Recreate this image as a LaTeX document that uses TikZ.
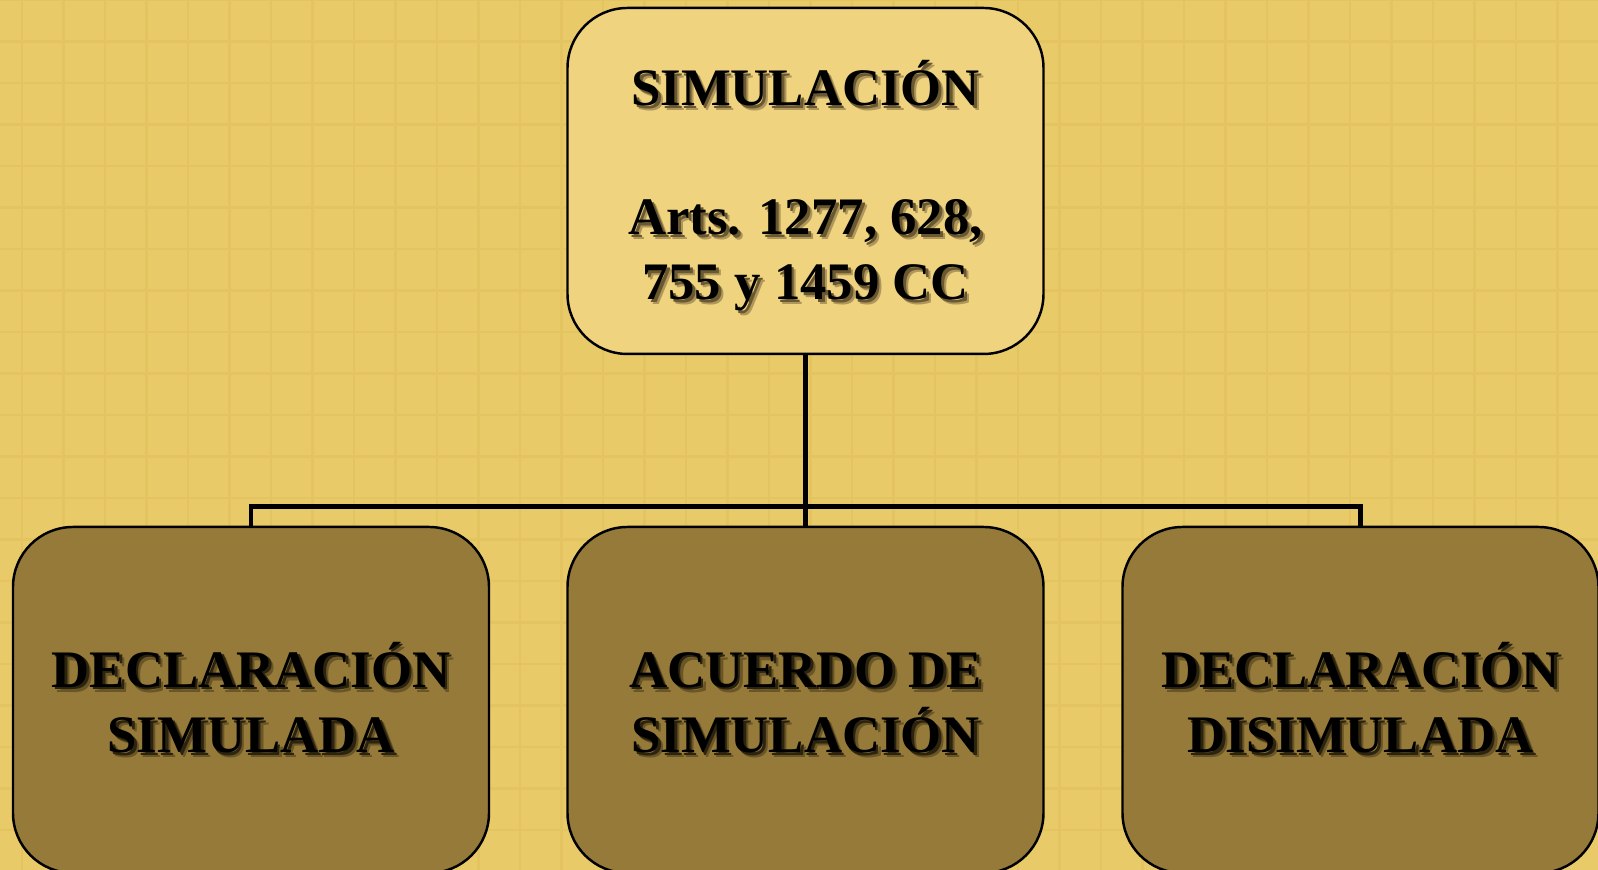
\documentclass[tikz,border=0pt]{standalone}
\usepackage{fontspec}
\setmainfont{Liberation Serif}
\definecolor{paper}{RGB}{233,202,104}
\definecolor{gridcol}{RGB}{228,196,97}
\definecolor{lightbox}{RGB}{239,211,127}
\definecolor{darkbox}{RGB}{149,122,57}
\definecolor{shadelighta}{RGB}{175,150,90}
\definecolor{shadelightb}{RGB}{105,88,48}
\definecolor{shadedarka}{RGB}{105,85,38}
\definecolor{shadedarkb}{RGB}{45,36,15}
\colorlet{shcola}{shadelighta}
\colorlet{shcolb}{shadelightb}
\newcommand{\shd}[1]{\leavevmode
  \rlap{\kern1.4pt\raisebox{-1.4pt}{\textcolor{shcola}{#1}}}%
  \rlap{\kern0.8pt\raisebox{-0.8pt}{\textcolor{shcolb}{#1}}}#1}
\tikzset{
  box/.style={draw=black, line width=0.7pt, rounded corners=0.6cm,
    minimum width=4.76cm, minimum height=3.46cm, align=center,
    inner sep=0pt, font=\fontsize{15}{18.6}\selectfont\bfseries},
  topbox/.style={box, fill=lightbox,
    execute at begin node={\colorlet{shcola}{shadelighta}\colorlet{shcolb}{shadelightb}}},
  subbox/.style={box, fill=darkbox,
    execute at begin node={\colorlet{shcola}{shadedarka}\colorlet{shcolb}{shadedarkb}}},
  conn/.style={line width=1.4pt},
  gridline/.style={gridcol, line width=0.6pt}
}
\begin{document}
\begin{tikzpicture}
\useasboundingbox (0,0) rectangle (15.98,8.70);
\clip (0,0) rectangle (15.98,8.70);
\fill[paper] (0,0) rectangle (15.98,8.70);
\draw[gridline, step=0.415, shift={(0.22,-0.015)}] (-0.5,-0.5) grid (16.2,9);

\node[topbox] (sim) at (8.055,6.89)
  {\rule{0pt}{0.6cm}\shd{SIMULACIÓN}\\[18pt]\shd{Arts. 1277, 628,}\\\shd{755 y 1459 CC}};

\node[subbox] (decsim) at (2.51,1.7) {\shd{DECLARACIÓN}\\\shd{SIMULADA}};
\node[subbox] (acuerdo) at (8.055,1.7) {\vphantom{Ó}\shd{ACUERDO DE}\\\shd{SIMULACIÓN}};
\node[subbox] (decdis) at (13.605,1.7) {\shd{DECLARACIÓN}\\\shd{DISIMULADA}};

\draw[conn] (sim.south) -- ++(0,-1.51) coordinate (bus);
\draw[conn] (decsim.north) |- (bus) -| (decdis.north);
\draw[conn] (bus) -- (acuerdo.north);

\end{tikzpicture}
\end{document}
